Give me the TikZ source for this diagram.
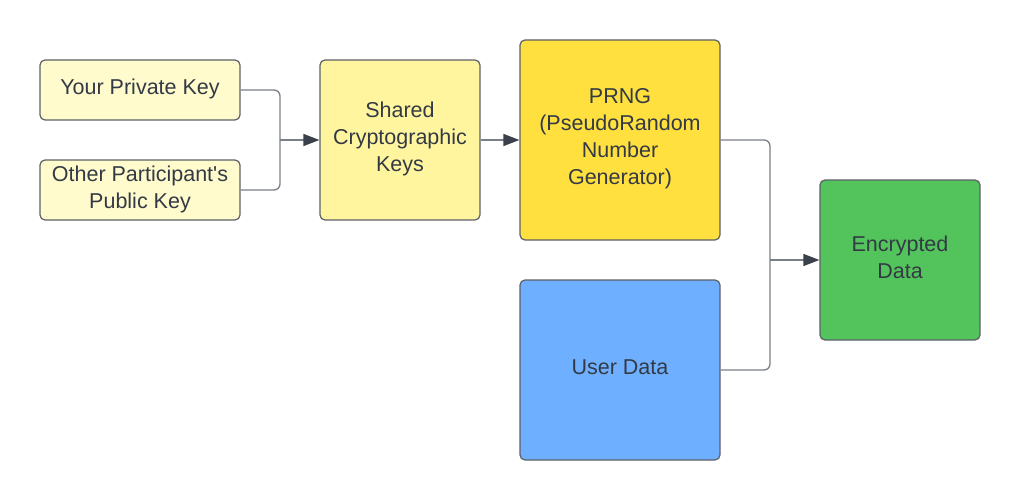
\documentclass[tikz,border=0pt]{standalone}
\usepackage{fontspec}
\setmainfont{Liberation Sans}
\usetikzlibrary{arrows.meta}
\definecolor{lightyel}{HTML}{FFFBCC}
\definecolor{midyel}{HTML}{FFF59E}
\definecolor{deepyel}{HTML}{FFE03F}
\definecolor{userblue}{HTML}{6EB0FF}
\definecolor{encgreen}{HTML}{53C45B}
\definecolor{bordergray}{HTML}{5C6068}
\definecolor{linegray}{HTML}{7A7F87}
\definecolor{txt}{HTML}{333A45}
\definecolor{arrowdark}{HTML}{3A414B}
\begin{document}
\begin{tikzpicture}[x=1pt,y=-1pt,
  box/.style={draw=bordergray, line width=1.2pt, rounded corners=5pt, align=center,
    text=txt, font=\fontsize{21.5}{27}\selectfont, inner sep=0pt, text depth=6.5pt},
  conn/.style={draw=linegray, line width=1.3pt, rounded corners=6pt,
    -{Triangle[length=16pt,width=12pt,color=arrowdark]}},
  plain/.style={draw=linegray, line width=1.3pt, rounded corners=6pt}]
\useasboundingbox (0,0) rectangle (1020,500);
\node[box, fill=lightyel, minimum width=200pt, minimum height=60pt] (priv) at (140,90) {Your Private Key};
\node[box, fill=lightyel, minimum width=200pt, minimum height=60pt] (pub) at (140,190) {Other Participant\textquotesingle s\\Public Key};
\node[box, fill=midyel, minimum width=160pt, minimum height=160pt] (shared) at (400,140) {Shared\\Cryptographic\\Keys};
\node[box, fill=deepyel, minimum width=200pt, minimum height=200pt] (prng) at (620,140) {PRNG\\(PseudoRandom\\Number\\Generator)};
\node[box, fill=userblue, minimum width=200pt, minimum height=180pt] (user) at (620,370) {User Data};
\node[box, fill=encgreen, minimum width=160pt, minimum height=160pt] (enc) at (900,260) {Encrypted\\Data};
\coordinate (j1) at (280,140);
\coordinate (j2) at (770,260);
\draw[plain] (priv.east) -| (j1);
\draw[plain] (pub.east) -| (j1);
\draw[conn] (j1) -- (shared.west);
\draw[conn] (shared.east) -- (prng.west);
\draw[plain] (prng.east) -| (j2);
\draw[plain] (user.east) -| (j2);
\draw[conn] (j2) -- (enc.west);
\end{tikzpicture}
\end{document}
